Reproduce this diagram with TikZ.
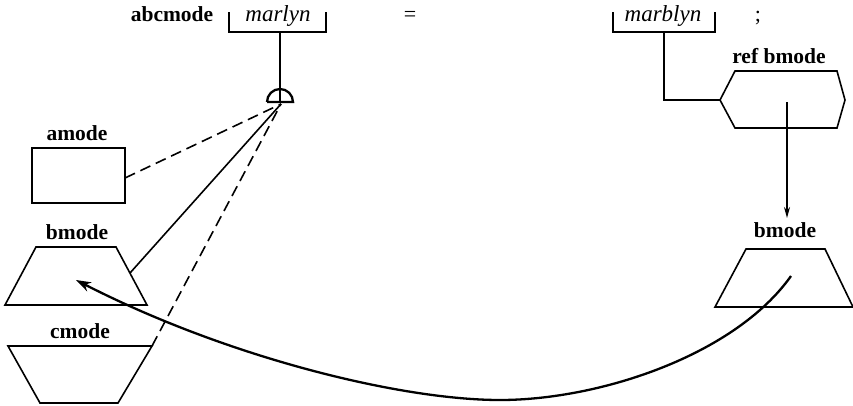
\documentclass[tikz,border=0pt]{standalone}
\usepackage{fontspec}
\setmainfont{Liberation Serif}
\usetikzlibrary{arrows.meta}
\begin{document}
\begin{tikzpicture}[x=1pt,y=-1pt,
  line/.style={line width=1.6pt,line join=miter},
  thick line/.style={line width=2.3pt},
  dashline/.style={line width=1.6pt,dash pattern=on 11pt off 6pt},
  lbl/.style={font=\fontsize{21.5}{24}\selectfont\bfseries,anchor=base,inner sep=0pt},
  ilbl/.style={font=\fontsize{23}{26}\selectfont\itshape,anchor=base,inner sep=0pt},
  plain/.style={font=\fontsize{22}{24}\selectfont,anchor=base,inner sep=0pt}]
\useasboundingbox (0,0) rectangle (853,405);

% top row texts
\node[lbl] (abc) at (172,21) {abcmode};
\node[ilbl] (marlyn) at (278,21) {marlyn};
\node[plain] (eq) at (410,21) {=};
\node[ilbl] (marblyn) at (663,21) {marblyn};
\node[plain] (semi) at (758,21) {;};

% brackets
\draw[line] (229,12) -- (229,32) coordinate (b1l) -- (326,32) coordinate (b1r) -- (326,12);
\draw[line] (613,12) -- (613,32) -- (715,32) -- (715,12);
\coordinate (b1) at (280,32);
\coordinate (b2) at (664,32);

% semicircle (half disc, flat side up)
\coordinate (sc) at (280,102);
\draw[thick line] (267,102) -- (293,102) arc[start angle=0,end angle=-180,radius=13];
\draw[line] (b1) -- (sc);
\coordinate (hub) at (281,104);

% ref bmode hexagon
\node[lbl] (refl) at (779,63) {ref bmode};
\coordinate (hexW) at (720,100);
\draw[line] (hexW) -- (735,71) -- (837,71) -- (845,100) -- (837,128) -- (735,128) -- cycle;
\draw[line] (b2) |- (hexW);
\coordinate (hexC) at (787,102);

% right bmode
\node[lbl] (rbl) at (785,237) {bmode};
\coordinate (rbtop) at (787,218);
\draw[line] (746,249) -- (825,249) -- (853,307) -- (715,307) -- cycle;
\coordinate (rbC) at (791,276);
\draw[line,-{Stealth[length=11pt,width=6pt]}] (hexC) -- (rbtop);

% amode
\node[lbl] (al) at (77,140) {amode};
\draw[line] (32,148) rectangle (125,203);
\coordinate (aR) at (125,178);

% left bmode
\node[lbl] (lbl1) at (77,239) {bmode};
\draw[line] (36,247) -- (116,247) -- (147,305) -- (5,305) -- cycle;
\coordinate (lbR) at (130,273);
\coordinate (lbC) at (76,280);

% cmode
\node[lbl] (cl) at (80,338) {cmode};
\draw[line] (8,346) -- (152,346) -- (118,403) -- (40,403) -- cycle;
\coordinate (cTR) at (152,346);

% connectors from hub
\draw[dashline] (aR) -- (hub);
\draw[line] (lbR) -- (hub);
\draw[dashline] (cTR) -- (hub);

% curved arrow
\coordinate (low) at (500,400);
\draw[thick line,-{Stealth[length=15pt,width=10pt]}] (rbC) .. controls (735,355) and (600,400) .. (low)
  .. controls (400,400) and (226,357) .. (lbC);
\end{tikzpicture}
\end{document}
